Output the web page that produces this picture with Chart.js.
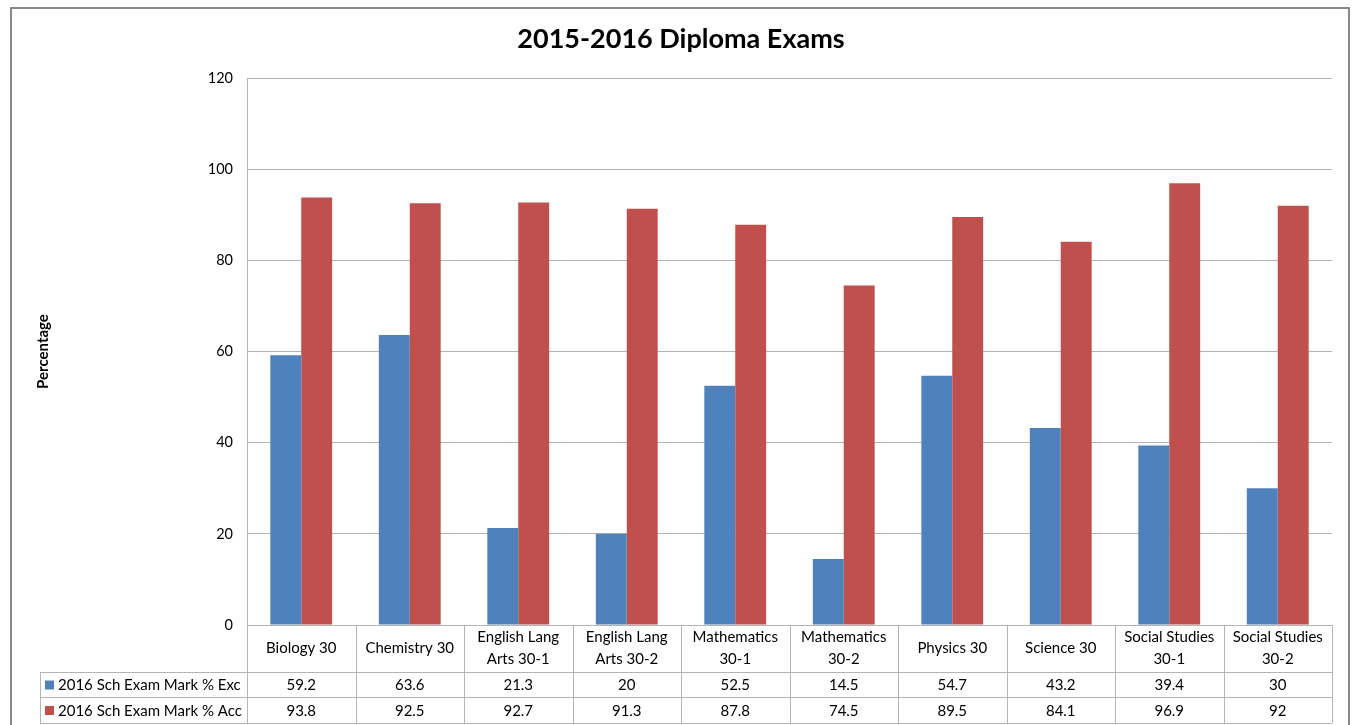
<!DOCTYPE html>
<html>
<head>
<meta charset="utf-8">
<script src="https://cdn.jsdelivr.net/npm/chart.js@4/dist/chart.umd.min.js"></script>
<style>
  body { margin: 0; background: #fff; }
  canvas { display: block; }
</style>
</head>
<body>
<canvas id="chart" width="1354" height="725"></canvas>
<script>
// data
const categories = [
  ['Biology 30'], ['Chemistry 30'], ['English Lang', 'Arts 30-1'], ['English Lang', 'Arts 30-2'],
  ['Mathematics', '30-1'], ['Mathematics', '30-2'], ['Physics 30'], ['Science 30'],
  ['Social Studies', '30-1'], ['Social Studies', '30-2']
]
const excValues = [59.2, 63.6, 21.3, 20, 52.5, 14.5, 54.7, 43.2, 39.4, 30]
const accValues = [93.8, 92.5, 92.7, 91.3, 87.8, 74.5, 89.5, 84.1, 96.9, 92]
const seriesNames = ['2016 Sch Exam Mark % Exc', '2016 Sch Exam Mark % Acc']
const yTicks = [0, 20, 40, 60, 80, 100, 120]

const fontFamily = 'Lato, "Open Sans", sans-serif'
const lineColor = '#b4b4b4'

// outer frame, like the excel chart border
const framePlugin = {
  id: 'frame',
  beforeDraw(chart) {
    const ctx = chart.ctx
    ctx.save()
    ctx.strokeStyle = '#8a8a8a'
    ctx.lineWidth = 2
    ctx.strokeRect(11, 8, 1338, 800)
    ctx.restore()
  }
}

// data table under the plot
const tablePlugin = {
  id: 'dataTable',
  afterDraw(chart) {
    const ctx = chart.ctx
    const area = chart.chartArea
    const xs = chart.scales.x
    const step = (area.right - area.left) / categories.length
    const top = area.bottom
    const row1 = top + 47
    const row2 = row1 + 25
    const bottom = row2 + 26
    const labelLeft = 40

    ctx.save()
    ctx.strokeStyle = lineColor
    ctx.lineWidth = 1

    const hline = (y, x1, x2) => { ctx.beginPath(); ctx.moveTo(x1, y + 0.5); ctx.lineTo(x2, y + 0.5); ctx.stroke() }
    const vline = (x, y1, y2) => { ctx.beginPath(); ctx.moveTo(x + 0.5, y1); ctx.lineTo(x + 0.5, y2); ctx.stroke() }

    hline(top, area.left, area.right)
    hline(row1, labelLeft, area.right)
    hline(row2, labelLeft, area.right)
    hline(bottom, labelLeft, area.right)
    vline(labelLeft, row1, bottom)
    for (let i = 0; i <= categories.length; i++) {
      vline(Math.round(area.left + i * step), top, bottom)
    }

    ctx.fillStyle = '#000'
    ctx.font = '15px ' + fontFamily
    ctx.textAlign = 'center'
    ctx.textBaseline = 'middle'
    categories.forEach((lines, i) => {
      const cx = xs.getPixelForValue(i)
      const mid = (top + row1) / 2
      lines.forEach((t, j) => {
        ctx.fillText(t, cx, mid + (j - (lines.length - 1) / 2) * 22)
      })
      ctx.fillText(String(excValues[i]), cx, (row1 + row2) / 2 + 1)
      ctx.fillText(String(accValues[i]), cx, (row2 + bottom) / 2 + 1)
    })

    const colors = chart.data.datasets.map(d => d.backgroundColor)
    const rows = [(row1 + row2) / 2 + 1, (row2 + bottom) / 2 + 1]
    ctx.textAlign = 'left'
    seriesNames.forEach((name, k) => {
      ctx.fillStyle = colors[k]
      ctx.fillRect(45, rows[k] - 5, 9, 9)
      ctx.fillStyle = '#000'
      ctx.fillText(name, 58, rows[k])
    })
    ctx.restore()
  }
}

const ctx = document.getElementById('chart').getContext('2d')
new Chart(ctx, {
  type: 'bar',
  data: {
    labels: categories,
    datasets: [
      { label: seriesNames[0], data: excValues, backgroundColor: '#4f81bd' },
      { label: seriesNames[1], data: accValues, backgroundColor: '#c0504d' }
    ]
  },
  options: {
    responsive: false,
    animation: false,
    categoryPercentage: 0.57,
    barPercentage: 1,
    layout: { padding: { left: 30, right: 22, bottom: 100, top: 0 } },
    plugins: {
      legend: { display: false },
      tooltip: { enabled: false },
      title: {
        display: true,
        text: '2015-2016 Diploma Exams',
        color: '#000',
        font: { family: fontFamily, size: 27, weight: 'bold', lineHeight: 1.2 },
        padding: { top: 23, bottom: 22.6 }
      }
    },
    scales: {
      x: { display: false },
      y: {
        min: 0,
        max: 120,
        afterFit(scale) { scale.width = 217 },
        afterBuildTicks(scale) { scale.ticks = yTicks.map(v => ({ value: v })) },
        border: { color: lineColor },
        grid: { color: lineColor, drawTicks: false },
        ticks: { color: '#000', padding: 14, font: { family: fontFamily, size: 14.5 } },
        title: {
          display: true,
          text: 'Percentage',
          color: '#000',
          font: { family: fontFamily, size: 15, weight: 'bold' }
        }
      }
    }
  },
  plugins: [framePlugin, tablePlugin]
})
</script>
</body>
</html>
